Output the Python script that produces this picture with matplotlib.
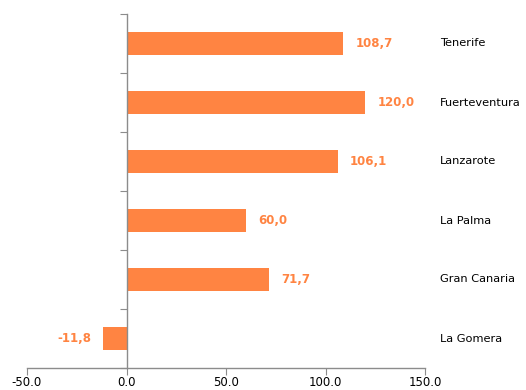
import matplotlib.pyplot as plt
import numpy as np

islands = ["Tenerife", "Fuerteventura", "Lanzarote", "La Palma", "Gran Canaria", "La Gomera"]
values = [108.7, 120.0, 106.1, 60.0, 71.7, -11.8]
x_ticks = [-50, 0, 50, 100, 150]

bar_color = "#FF8442"
axis_color = "#8C8C8C"

fig = plt.figure(figsize=(5.26, 3.90), dpi=100)
ax = fig.add_axes([27 / 526, 1 - 368 / 390, 398 / 526, 354 / 390])

pos = np.arange(len(islands))
ax.barh(pos, values, height=0.4, color=bar_color)

ax.set_xlim(-50, 150)
ax.set_ylim(len(islands) - 0.5, -0.5)
ax.set_xticks(x_ticks)
ax.set_xticklabels([f"{t:.1f}" for t in x_ticks])
ax.set_yticks(np.arange(-0.5, len(islands), 1.0))
ax.set_yticklabels([])

for s in ["top", "right"]:
    ax.spines[s].set_visible(False)
ax.spines["left"].set_position(("data", 0))
for s in ["left", "bottom"]:
    ax.spines[s].set_color(axis_color)
    ax.spines[s].set_linewidth(1.0)
ax.tick_params(axis="x", colors=axis_color, length=5, labelcolor="black", labelsize=8.5, pad=1)
ax.tick_params(axis="y", colors=axis_color, length=5, direction="out")

for i, (name, v) in enumerate(zip(islands, values)):
    label = f"{v:.1f}".replace(".", ",")
    if v >= 0:
        ax.annotate(label, (v, i), xytext=(9, 0), textcoords="offset points",
                    ha="left", va="center", color=bar_color, fontweight="bold", fontsize=8.5)
    else:
        ax.annotate(label, (v, i), xytext=(-8.5, 0), textcoords="offset points",
                    ha="right", va="center", color=bar_color, fontweight="bold", fontsize=8.5)
    ax.text(1.038, i, name, transform=ax.get_yaxis_transform(), ha="left", va="center",
            fontsize=8.2, color="black")

fig.savefig("out.png", dpi=100)
